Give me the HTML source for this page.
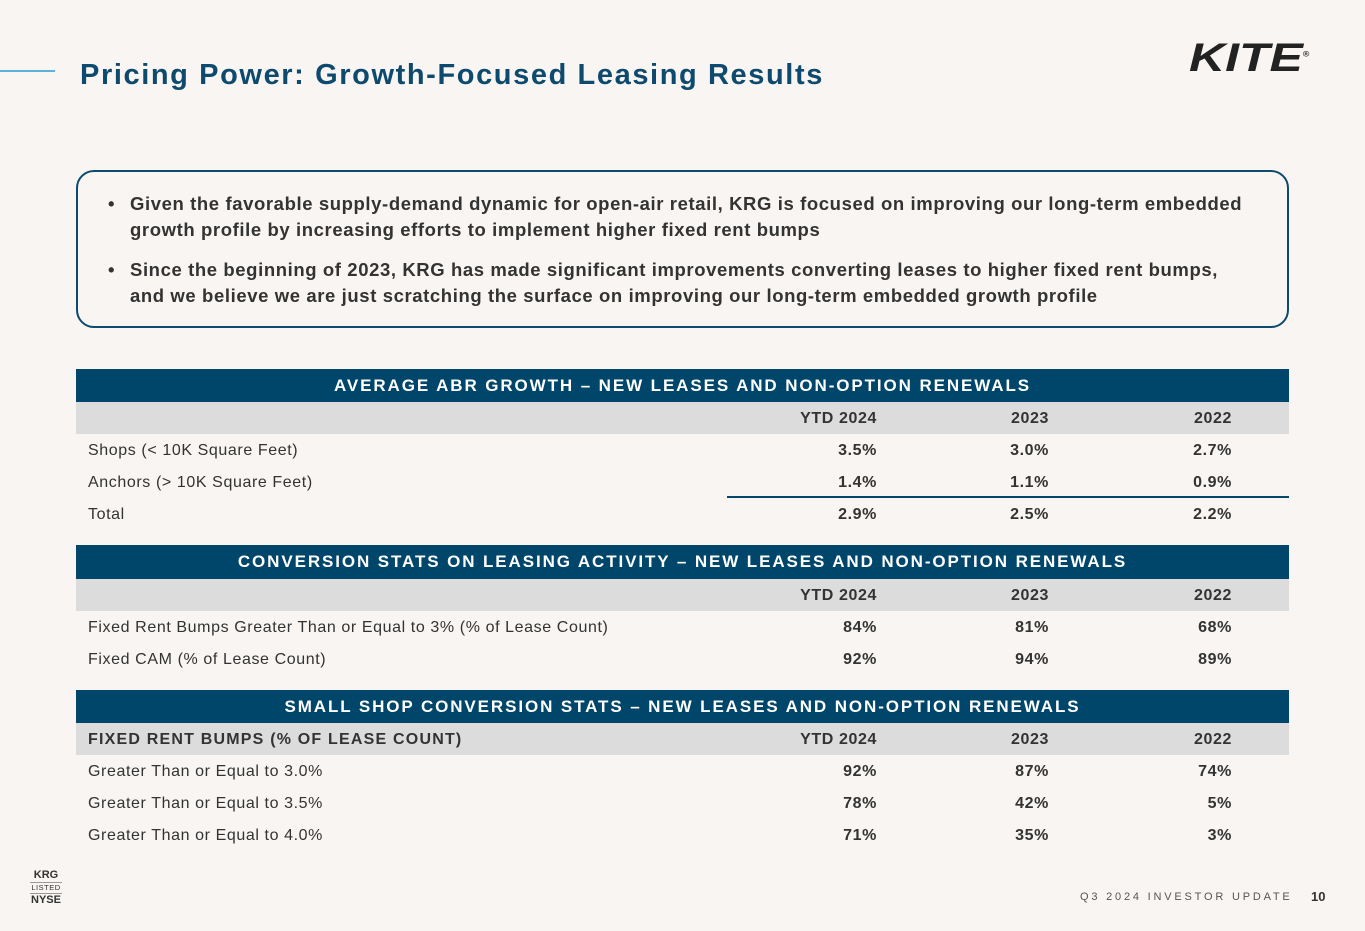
<!DOCTYPE html><html><head><meta charset="utf-8"><style>
body{margin:0;width:1365px;height:931px;background:#f8f5f2;font-family:"Liberation Sans",sans-serif;position:relative;overflow:hidden}
.a{position:absolute}
.title{left:80px;top:59px;font-size:29px;color:#0e4a6e;font-weight:bold;letter-spacing:1.6px}
.box{left:76px;top:170px;width:1209px;height:154px;border:2.5px solid #0e4a6e;border-radius:18px}
.bul{left:108px;font-size:18.5px;color:#333;font-weight:bold;line-height:26px;letter-spacing:0.6px}
.bul span{position:absolute;left:22px;width:1120px}
.hdr{left:76px;width:1213px;background:#00466b;color:#fff;font-size:17px;font-weight:bold;text-align:center;letter-spacing:1.9px}
.row{left:76px;width:1213px;height:32px;font-size:16px;color:#333;letter-spacing:0.6px}
.row.g{background:#dcdcdc;font-weight:bold}
.row div{position:absolute;top:8px}
.l{left:12px}
.c1{right:412px;font-weight:bold}.c2{right:240px;font-weight:bold}.c3{right:57px;font-weight:bold}
</style></head><body>
<div class="a" style="left:0;top:70px;width:55px;height:2px;background:#5bb3d9"></div>
<div class="a title">Pricing Power: Growth-Focused Leasing Results</div>
<div class="a" style="left:1189px;top:36px;font-size:40px;font-weight:900;font-style:italic;color:#222;letter-spacing:0px;transform:scaleX(1.25);transform-origin:left">KITE<sup style="font-size:7px;font-style:normal">®</sup></div>
<div class="a box"></div>
<div class="a bul" style="top:191px">•<span>Given the favorable supply-demand dynamic for open-air retail, KRG is focused on improving our long-term embedded growth profile by increasing efforts to implement higher fixed rent bumps</span></div>
<div class="a bul" style="top:257px">•<span>Since the beginning of 2023, KRG has made significant improvements converting leases to higher fixed rent bumps, and we believe we are just scratching the surface on improving our long-term embedded growth profile</span></div>

<div class="a hdr" style="top:369px;height:33px;line-height:33px">AVERAGE ABR GROWTH – NEW LEASES AND NON-OPTION RENEWALS</div>
<div class="a row g" style="top:402px"><div class="c1">YTD 2024</div><div class="c2">2023</div><div class="c3">2022</div></div>
<div class="a row" style="top:434px"><div class="l">Shops (&lt; 10K Square Feet)</div><div class="c1">3.5%</div><div class="c2">3.0%</div><div class="c3">2.7%</div></div>
<div class="a row" style="top:466px"><div class="l">Anchors (&gt; 10K Square Feet)</div><div class="c1">1.4%</div><div class="c2">1.1%</div><div class="c3">0.9%</div></div>
<div class="a" style="left:727px;top:496px;width:562px;height:1.5px;background:#00466b"></div>
<div class="a row" style="top:498px"><div class="l">Total</div><div class="c1">2.9%</div><div class="c2">2.5%</div><div class="c3">2.2%</div></div>

<div class="a hdr" style="top:545px;height:34px;line-height:34px">CONVERSION STATS ON LEASING ACTIVITY – NEW LEASES AND NON-OPTION RENEWALS</div>
<div class="a row g" style="top:579px"><div class="c1">YTD 2024</div><div class="c2">2023</div><div class="c3">2022</div></div>
<div class="a row" style="top:611px"><div class="l">Fixed Rent Bumps Greater Than or Equal to 3% (% of Lease Count)</div><div class="c1">84%</div><div class="c2">81%</div><div class="c3">68%</div></div>
<div class="a row" style="top:643px"><div class="l">Fixed CAM (% of Lease Count)</div><div class="c1">92%</div><div class="c2">94%</div><div class="c3">89%</div></div>

<div class="a hdr" style="top:690px;height:33px;line-height:33px">SMALL SHOP CONVERSION STATS – NEW LEASES AND NON-OPTION RENEWALS</div>
<div class="a row g" style="top:723px"><div class="l" style="letter-spacing:1.2px">FIXED RENT BUMPS (% OF LEASE COUNT)</div><div class="c1">YTD 2024</div><div class="c2">2023</div><div class="c3">2022</div></div>
<div class="a row" style="top:755px"><div class="l">Greater Than or Equal to 3.0%</div><div class="c1">92%</div><div class="c2">87%</div><div class="c3">74%</div></div>
<div class="a row" style="top:787px"><div class="l">Greater Than or Equal to 3.5%</div><div class="c1">78%</div><div class="c2">42%</div><div class="c3">5%</div></div>
<div class="a row" style="top:819px"><div class="l">Greater Than or Equal to 4.0%</div><div class="c1">71%</div><div class="c2">35%</div><div class="c3">3%</div></div>

<div class="a" style="left:30px;top:869px;width:32px;text-align:center;color:#333;font-size:11px;font-weight:bold;line-height:13px">KRG<div style="font-size:7.5px;font-weight:normal;border-top:1px solid #999;border-bottom:1px solid #999;line-height:10px;letter-spacing:0.5px">LISTED</div>NYSE</div>
<div class="a" style="left:1080px;top:891px;font-size:11px;letter-spacing:2.8px;color:#555">Q3 2024 INVESTOR UPDATE</div>
<div class="a" style="left:1311px;top:889px;font-size:13px;font-weight:bold;color:#333">10</div>
</body></html>
